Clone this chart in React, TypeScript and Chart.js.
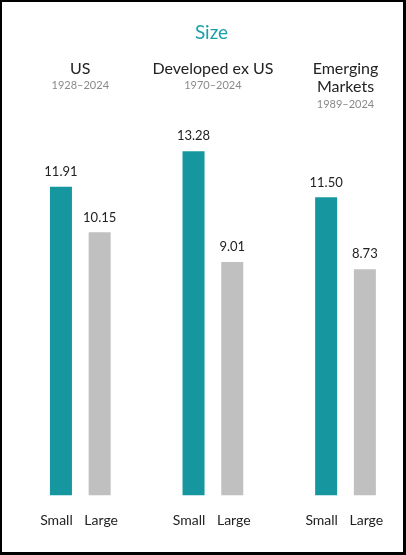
import React, { useEffect, useRef } from "react";
import { Chart, registerables } from "chart.js";

Chart.register(...registerables);

const chartTitle = "Size";
const groups = ["US", "Developed ex US", "Emerging Markets"];
const groupLines = [["US"], ["Developed ex US"], ["Emerging", "Markets"]];
const periods = ["1928–2024", "1970–2024", "1989–2024"];
const seriesNames = ["Small", "Large"];
const smallValues = [11.91, 13.28, 11.5];
const largeValues = [10.15, 9.01, 8.73];

const FONT = "Lato, 'Noto Sans', sans-serif";
const TEAL = "#16979f";
const GREY = "#c0c0c0";
const labelShift = [-4.5, 1.5];

const textPlugin = {
  id: "customText",
  afterDatasetsDraw(chart: any) {
    const { ctx, chartArea } = chart;
    const xScale = chart.scales.x;
    ctx.save();
    ctx.textAlign = "center";
    ctx.textBaseline = "middle";

    // title
    ctx.fillStyle = "#1aa0a9";
    ctx.font = `19px ${FONT}`;
    ctx.fillText(chartTitle, chart.width / 2 + 9, 31);

    // group headers
    groups.forEach((_, i) => {
      const cx = xScale.getPixelForValue(i);
      const lines = groupLines[i];
      ctx.fillStyle = "#222222";
      ctx.font = `16px ${FONT}`;
      const y = 66.5;
      lines.forEach((ln, j) => {
        ctx.fillText(ln, cx, y + j * 18.5);
      });
      ctx.fillStyle = "#8a8a8a";
      ctx.font = `11px ${FONT}`;
      ctx.fillText(periods[i], cx, y + (lines.length - 1) * 18.5 + 17);
    });

    // values and bottom labels
    chart.data.datasets.forEach((ds: any, di: number) => {
      const meta = chart.getDatasetMeta(di);
      meta.data.forEach((bar: any, i: number) => {
        ctx.fillStyle = "#222222";
        ctx.font = `13px ${FONT}`;
        ctx.fillText(Number(ds.data[i]).toFixed(2), bar.x, bar.y - 15);
        ctx.font = `14px ${FONT}`;
        ctx.fillText(seriesNames[di], bar.x + labelShift[di], chartArea.bottom + 25.5);
      });
    });
    ctx.restore();
  },
};

export default function App() {
  const canvasRef = useRef<HTMLCanvasElement | null>(null);

  useEffect(() => {
    document.body.style.margin = "0";
    const canvas = canvasRef.current;
    if (!canvas) return;
    const chart = new Chart(canvas, {
      type: "bar",
      data: {
        labels: groups,
        datasets: [
          {
            label: seriesNames[0],
            data: smallValues,
            backgroundColor: TEAL,
            borderWidth: 0,
            clip: false as any,
          },
          {
            label: seriesNames[1],
            data: largeValues,
            backgroundColor: GREY,
            borderWidth: 0,
            clip: false as any,
          },
        ],
      },
      options: {
        animation: false,
        responsive: false,
        maintainAspectRatio: false,
        devicePixelRatio: 1,
        categoryPercentage: 0.584,
        barPercentage: 0.5685,
        layout: {
          padding: { left: 78.3, right: 57.5, top: 130.6, bottom: 56.7 },
        },
        plugins: {
          legend: { display: false },
          tooltip: { enabled: false },
          title: { display: false },
        },
        scales: {
          x: {
            display: false,
            offset: false,
            grid: { display: false },
          },
          y: {
            display: false,
            min: 0,
            max: 14,
            grid: { display: false },
          },
        },
      },
      plugins: [textPlugin],
    });
    return () => chart.destroy();
  }, []);

  return (
    <div
      style={{
        position: "relative",
        width: 406,
        height: 555,
        boxSizing: "border-box",
        borderStyle: "solid",
        borderColor: "#000",
        borderWidth: "2px 3px 3px 2px",
        background: "#fff",
      }}
    >
      <canvas
        ref={canvasRef}
        width={401}
        height={550}
        style={{ display: "block", width: 401, height: 550 }}
      />
    </div>
  );
}
